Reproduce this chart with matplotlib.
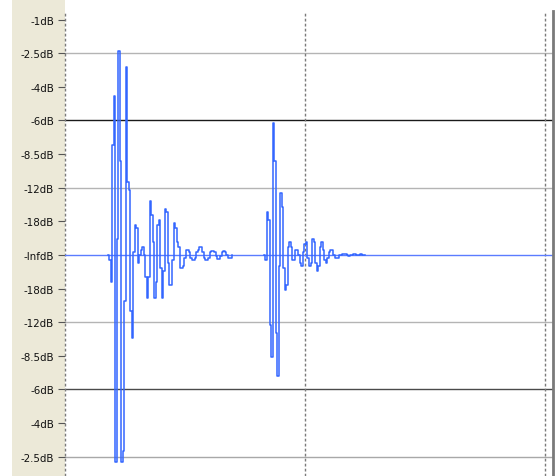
import matplotlib
matplotlib.use('Agg')

import numpy as np
import matplotlib.pyplot as plt

# waveform samples (linear amplitude), one sample every SAMPLE_DT seconds
SAMPLE_DT = 0.00625
BURST1_START = 0.179
BURST1 = [0.0, -0.02, -0.10, 0.41, 0.59, -0.77, 0.06, 0.76, 0.35, -0.77,
          -0.73, -0.17, 0.70, 0.27, 0.24, -0.21, -0.31, 0.01, 0.11, 0.10,
          -0.03, 0.0, 0.02, 0.03, 0.0, -0.08, -0.16, -0.08, 0.20, 0.15,
          0.05, -0.16, -0.10, 0.11, 0.13, -0.05, -0.16, -0.06, 0.17, 0.16,
          -0.03, -0.11, -0.11, -0.02, 0.12, 0.10, 0.05, 0.03, -0.05, -0.05,
          -0.04, -0.01, 0.02, 0.02, 0.01, -0.01, -0.02, -0.02, -0.01, 0.01,
          0.02, 0.03, 0.03, 0.01, -0.01, -0.02, -0.02, -0.01, 0.01, 0.015,
          0.015, 0.01, -0.005, -0.015, -0.015, -0.005, 0.01, 0.015, 0.01, 0.0,
          -0.01, -0.01, -0.01, 0.0]
BURST2_START = 0.829
BURST2 = [0.0, -0.02, 0.16, 0.13, -0.26, -0.38, 0.49, 0.35, -0.29, -0.45,
          -0.04, 0.23, 0.18, -0.05, -0.13, -0.11, 0.03, 0.05, 0.03, -0.02,
          -0.02, 0.02, 0.02, 0.0, -0.03, -0.04, 0.01, 0.04, 0.05, -0.01,
          -0.04, -0.03, 0.06, 0.05, -0.03, -0.06, -0.04, 0.03, 0.05, 0.02,
          -0.02, -0.03, -0.01, 0.01, 0.02, 0.02, 0.0, -0.01, -0.01, -0.01,
          0.0, 0.0, 0.003, 0.005, 0.003, 0.0, -0.003, 0.0, 0.0, 0.003,
          0.004, 0.0, 0.0, 0.0, 0.002, 0.0, 0.0, 0.0]

# vertical ruler (dB labels for linear amplitudes)
TICK_AMPS = [0.875, 0.75, 0.625, 0.5, 0.375, 0.25, 0.125, 0.0,
             -0.125, -0.25, -0.375, -0.5, -0.625, -0.75]
TICK_LABELS = ['-1dB', '-2.5dB', '-4dB', '-6dB', '-8.5dB', '-12dB', '-18dB', '-InfdB',
               '-18dB', '-12dB', '-8.5dB', '-6dB', '-4dB', '-2.5dB']

GRID_AMPS = [0.75, 0.5, 0.25, -0.25, -0.5, -0.75]
GRID_COLORS = ['#b4b4b4', '#1a1a1a', '#b4b4b4', '#b4b4b4', '#4a4a4a', '#a8a8a8']
CLIP_LINES = [0.0, 1.0, 2.0]

WAVE_COLOR = '#3366ff'

W, H = 555, 477
fig = plt.figure(figsize=(W / 100, H / 100), dpi=100)
fig.patch.set_facecolor('white')

# beige ruler panel
ruler = fig.add_axes([12 / W, 0, 53 / W, 1])
ruler.set_facecolor('#ece9d8')
ruler.set_xticks([])
ruler.set_yticks([])
for s in ruler.spines.values():
    s.set_visible(False)

ax = fig.add_axes([65 / W, 0, (553 - 65) / W, (H - 12) / H])
ax.set_facecolor('white')
ax.set_xlim(0, 2.033)
ax.set_ylim(-0.8216, 0.907)

for amp, col in zip(GRID_AMPS, GRID_COLORS):
    ax.axhline(amp, color=col, lw=1.0, zorder=1)

for t in CLIP_LINES:
    ax.axvline(t, color='#7a7a7a', lw=1.0, ls=(0, (2, 1.6)), zorder=2, clip_on=False)

# zero line
ax.axhline(0, color='#5b7cff', lw=1.0, zorder=2)

for start, vals in [(BURST1_START, BURST1), (BURST2_START, BURST2)]:
    t = start + SAMPLE_DT * np.arange(len(vals))
    ax.plot(t, vals, drawstyle='steps-post', color=WAVE_COLOR, lw=1.1, zorder=3)

ax.set_yticks(TICK_AMPS)
ax.set_yticklabels(TICK_LABELS, fontsize=7.4, color='#111111')
ax.tick_params(axis='y', direction='out', length=5, width=0.8, color='#555555', pad=3)
ax.set_xticks([])

for side in ['top', 'bottom', 'left']:
    ax.spines[side].set_visible(False)
ax.spines['right'].set_color('#7a7a7a')
ax.spines['right'].set_linewidth(2.0)

fig.savefig('out.png', dpi=100)
